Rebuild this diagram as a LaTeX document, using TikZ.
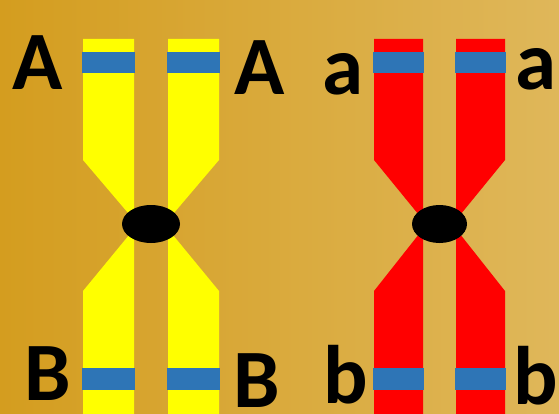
\documentclass[tikz,border=0pt]{standalone}
\usepackage{fontspec}
\setmainfont{Carlito}
\usetikzlibrary{positioning,calc}
\definecolor{goldL}{HTML}{D49D1F}
\definecolor{goldR}{HTML}{DFB75A}
\definecolor{locus}{HTML}{2E75B6}
\definecolor{armY}{HTML}{FFFF00}
\definecolor{armR}{HTML}{FF0000}
\begin{document}
\begin{tikzpicture}[x=1pt,y=-1pt,
    allele/.style={font=\fontsize{83}{83}\selectfont\bfseries,inner sep=0pt},
    band/.style={fill=locus}]
      % background
      \shade[left color=goldL,right color=goldR] (0,0) rectangle (559,414);
      \useasboundingbox (0,0) rectangle (559,414);
      % two homologues: centre x / colour / half gap / arm width / centromere rx
      \foreach \cx/\col/\g/\w/\rx in {151/armY/17/51/29, 439.5/armR/16.5/49/27.5} {
        \foreach \s in {-1,1} {
          \coordinate (in) at (\cx+\s*\g,0);
          \coordinate (out) at (\cx+\s*\g+\s*\w,0);
          \fill[\col] (in|-0,39) -- (out|-0,39) -- (out|-0,160) -- (in|-0,220) -- cycle;
          \fill[\col] (in|-0,229) -- (out|-0,291) -- (out|-0,414) -- (in|-0,414) -- cycle;
          \fill[band] ($(out|-0,52)+(\s,0)$) rectangle ($(in|-0,73)+(-\s,0)$);
          \fill[band] ($(out|-0,368)+(\s,0)$) rectangle ($(in|-0,390)+(-\s,0)$);
        }
        \fill[black] (\cx,224) ellipse ({\rx} and 19);
      }
      \node[allele] (A1) at (37.5,62.5) {A};
      \node[allele] (A2) at (259.5,68) {A};
      \node[allele] (a1) at (342.5,74) {a};
      \node[allele] (a2) at (535.5,69) {a};
      \node[allele] (B1) at (47.5,374) {B};
      \node[allele] (B2) at (256.5,380.5) {B};
      \node[allele] (b1) at (346,375) {b};
      \node[allele] (b2) at (535.5,375.5) {b};
    \end{tikzpicture}
\end{document}
